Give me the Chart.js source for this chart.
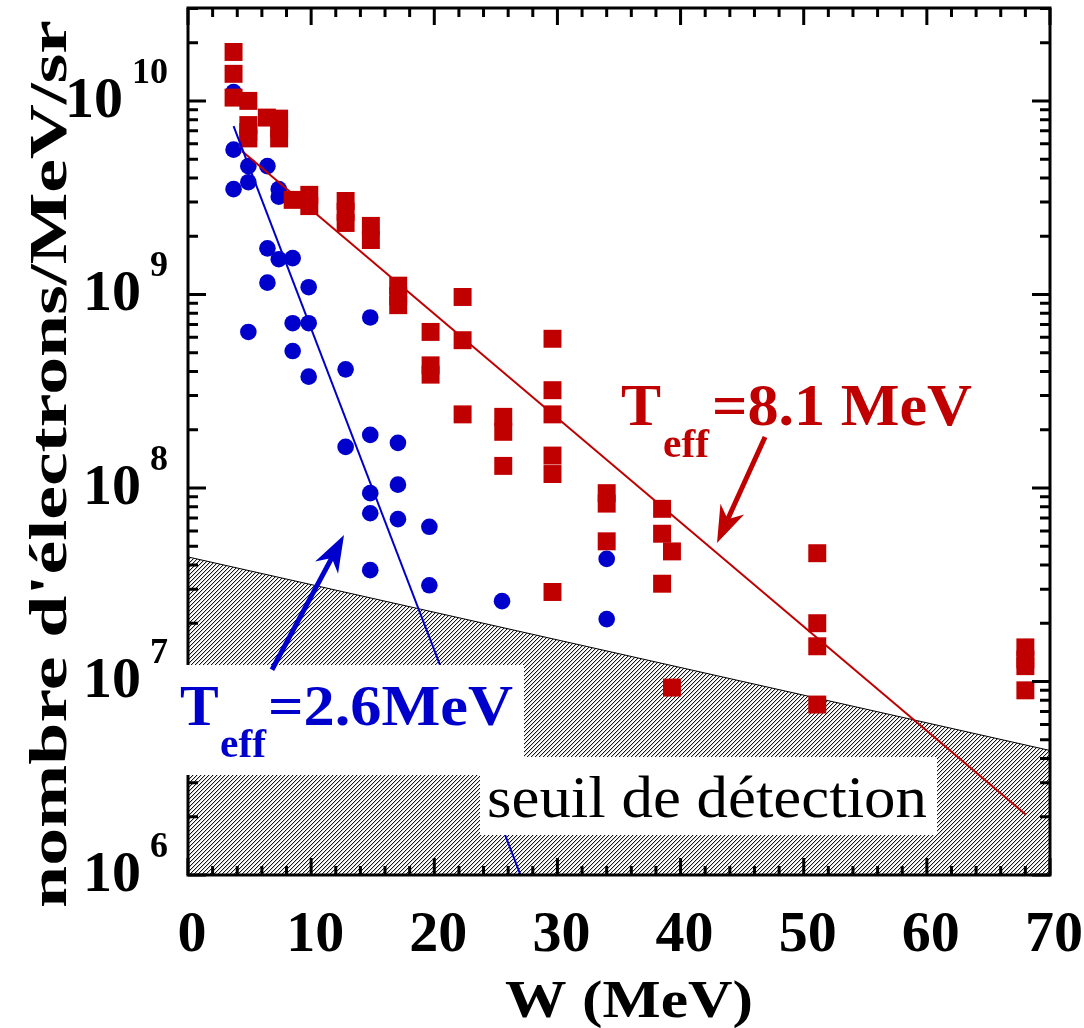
<!DOCTYPE html>
<html>
<head>
<meta charset="utf-8">
<script src="https://cdn.jsdelivr.net/npm/chart.js@4/dist/chart.umd.min.js"></script>
<style>
  html, body { margin: 0; padding: 0; background: #fff; }
  #wrap { width: 1084px; height: 1028px; }
</style>
</head>
<body>
<div id="wrap"><canvas id="spectre" width="1084" height="1028"></canvas></div>
<script>
/* --------------------------------------------------------------------------
   Spectre d'electrons : W (MeV) vs nombre d'electrons/MeV/sr
   -------------------------------------------------------------------------- */

// carres rouges
const rougeW = [3.7, 3.7, 3.7, 4.9, 4.9, 4.9, 4.9, 6.4, 7.4, 7.4, 7.4, 8.5, 9.85, 9.85,
  12.8, 12.8, 12.8, 14.85, 14.85, 17.07, 17.07, 17.07, 19.7, 19.7, 19.7, 22.3, 22.3, 22.3,
  25.6, 25.6, 25.6, 29.6, 29.6, 29.6, 29.6, 29.6, 29.6, 34.0, 34.0, 34.0,
  38.5, 38.5, 38.5, 39.3, 39.3, 51.1, 51.1, 51.1, 51.1, 68.0, 68.0, 68.0, 68.0];
const rougeN = [1.79e10, 1.38e10, 1.04e10, 1.0e10, 7.5e9, 6.9e9, 6.4e9, 8.2e9, 8.1e9, 7.2e9, 6.4e9, 3.08e9, 3.27e9, 2.86e9,
  3.04e9, 2.67e9, 2.34e9, 2.26e9, 1.91e9, 1.11e9, 9.8e8, 8.8e8, 6.4e8, 4.3e8, 3.85e8, 9.7e8, 5.8e8, 2.4e8,
  2.33e8, 1.95e8, 1.3e8, 5.9e8, 3.2e8, 2.4e8, 1.47e8, 1.18e8, 2.9e7, 9.4e7, 8.3e7, 5.3e7,
  7.8e7, 5.8e7, 3.2e7, 4.7e7, 9.3e6, 4.6e7, 2.0e7, 1.52e7, 7.6e6, 1.5e7, 1.3e7, 1.2e7, 9.0e6];

// ronds bleus
const bleuW = [3.7, 3.7, 3.7, 4.9, 4.9, 4.9, 6.45, 6.45, 6.45, 7.37, 7.37, 7.37, 8.5, 8.5, 8.5,
  9.8, 9.8, 9.8, 12.8, 12.8, 14.8, 14.8, 14.8, 14.8, 14.8, 17.05, 17.05, 17.05, 19.6, 19.6, 25.5, 34.0, 34.0];
const bleuN = [1.11e10, 5.6e9, 3.5e9, 4.6e9, 3.8e9, 6.4e8, 4.6e9, 1.73e9, 1.15e9, 3.5e9, 3.2e9, 1.52e9, 1.54e9, 7.1e8, 5.1e8,
  1.09e9, 7.1e8, 3.76e8, 4.1e8, 1.63e8, 7.6e8, 1.88e8, 9.4e7, 7.4e7, 3.76e7, 1.71e8, 1.04e8, 6.9e7, 6.3e7, 3.14e7, 2.6e7, 4.3e7, 2.1e7];

// droites d'ajustement (extremites)
const fitRougeW = [4.4, 68.05];
const fitRougeN = [5.5e9, 2.05e6];
const fitBleuW = [3.7, 27.0];
const fitBleuN = [7.4e9, 1.0e6];

// seuil de detection
const seuilW = [0, 70];
const seuilN = [4.4e7, 4.4e6];

// axes
const xLabels = [0, 10, 20, 30, 40, 50, 60, 70];
const yDecades = [6, 7, 8, 9, 10];

const SERIF = "'Liberation Serif', 'Times New Roman', serif";
const RED = "#C00000";
const BLUE = "#0000CC";

const zip = (xs, ys) => xs.map((x, i) => ({ x, y: ys[i] }));

function hatchPattern(target) {
  const c = document.createElement("canvas");
  c.width = 4; c.height = 4;
  const g = c.getContext("2d");
  const img = g.createImageData(4, 4);
  for (let y = 0; y < 4; y++) {
    const put = (x, v) => {
      const i = (y * 4 + x) * 4;
      img.data[i] = v; img.data[i + 1] = v; img.data[i + 2] = v; img.data[i + 3] = 255;
    };
    for (let x = 0; x < 4; x++) put(x, 255);
    put(3 - y, 20);
    put((4 - y) % 4, 205);
  }
  g.putImageData(img, 0, 0);
  return target.createPattern(c, "repeat");
}

function putText(ctx, str, x, y, font, color, width, align) {
  ctx.save();
  ctx.font = font;
  ctx.fillStyle = color;
  ctx.textBaseline = "alphabetic";
  ctx.textAlign = "left";
  const w = ctx.measureText(str).width;
  const sx = width ? width / w : 1;
  let left = x;
  if (align === "center") left = x - w * sx / 2;
  else if (align === "right") left = x - w * sx;
  ctx.translate(left, y);
  ctx.scale(sx, 1);
  ctx.fillText(str, 0, 0);
  ctx.restore();
}

function arrow(ctx, x0, y0, x1, y1, color, shaft, headLen, headHalf) {
  const len = Math.hypot(x1 - x0, y1 - y0);
  const ux = (x1 - x0) / len, uy = (y1 - y0) / len, px = -uy, py = ux;
  const bx = x1 - ux * headLen, by = y1 - uy * headLen;
  const nx = x1 - ux * headLen * 0.7, ny = y1 - uy * headLen * 0.7;
  ctx.save();
  ctx.strokeStyle = color; ctx.fillStyle = color; ctx.lineWidth = shaft;
  ctx.beginPath(); ctx.moveTo(x0, y0); ctx.lineTo(nx, ny); ctx.stroke();
  ctx.beginPath();
  ctx.moveTo(x1, y1);
  ctx.lineTo(bx + px * headHalf, by + py * headHalf);
  ctx.lineTo(nx, ny);
  ctx.lineTo(bx - px * headHalf, by - py * headHalf);
  ctx.closePath(); ctx.fill();
  ctx.restore();
}

// annotations (fleches en coordonnees des donnees)
const flecheBleue = { from: [6.82, 1.15e7], to: [12.67, 5.71e7] };
const flecheRouge = { from: [46.86, 1.835e8], to: [42.96, 5.2e7] };

const cadre = {
  id: "cadre",
  afterDatasetsDraw(chart) {
    const { ctx, chartArea: a, scales: { x, y } } = chart;
    ctx.save();

    // cadre + graduations interieures
    ctx.strokeStyle = "#000";
    ctx.lineWidth = 3;
    ctx.strokeRect(a.left, a.top, a.right - a.left, a.bottom - a.top);
    ctx.beginPath();
    for (let v = 0; v <= 70; v += 2) {
      const px = x.getPixelForValue(v);
      const L = v % 10 === 0 ? 17 : 9;
      ctx.moveTo(px, a.bottom); ctx.lineTo(px, a.bottom - L);
      ctx.moveTo(px, a.top); ctx.lineTo(px, a.top + L);
    }
    yDecades.forEach(e => {
      for (let m = 1; m <= 9; m++) {
        const v = m * Math.pow(10, e);
        if (v > y.max) continue;
        const py = y.getPixelForValue(v);
        const L = m === 1 ? 18 : 10;
        ctx.moveTo(a.left, py); ctx.lineTo(a.left + L, py);
        ctx.moveTo(a.right, py); ctx.lineTo(a.right - L, py);
      }
    });
    ctx.stroke();

    // etiquettes x
    xLabels.forEach(v => {
      putText(ctx, String(v), x.getPixelForValue(v) + 4, 951, "bold 58px " + SERIF, "#000", 0, "center");
    });

    // etiquettes y : 10^n
    yDecades.forEach(e => {
      const py = y.getPixelForValue(Math.pow(10, e));
      ctx.font = "bold 36px " + SERIF;
      const supW = ctx.measureText(String(e)).width;
      const supLeft = 168 - supW;
      putText(ctx, String(e), supLeft, py - 18, "bold 36px " + SERIF, "#000");
      putText(ctx, "10", supLeft - 9, py + 16, "bold 58px " + SERIF, "#000", 0, "right");
    });

    // titres des axes
    putText(ctx, "W (MeV)", 505, 1017, "bold 53px " + SERIF, "#000", 248);
    ctx.save();
    ctx.font = "bold 53px " + SERIF;
    const title = "nombre d'électrons/MeV/sr";
    const tw = ctx.measureText(title).width;
    ctx.translate(66, 464);
    ctx.rotate(-Math.PI / 2);
    ctx.scale(888 / tw, 1);
    ctx.textAlign = "center";
    ctx.textBaseline = "alphabetic";
    ctx.fillStyle = "#000";
    ctx.fillText(title, 0, 0);
    ctx.restore();

    // boites blanches des legendes
    ctx.fillStyle = "#fff";
    ctx.fillRect(170, 665, 354, 110);
    ctx.fillRect(480, 757, 457, 78);

    putText(ctx, "seuil de détection", 487, 817, "60px " + SERIF, "#000", 440);

    putText(ctx, "T", 180, 725, "bold 58px " + SERIF, BLUE);
    putText(ctx, "eff", 220, 757, "bold 39px " + SERIF, BLUE, 46);
    putText(ctx, "=2.6MeV", 268, 725, "bold 58px " + SERIF, BLUE, 245);

    putText(ctx, "T", 621, 425, "bold 60px " + SERIF, RED);
    putText(ctx, "eff", 663, 457, "bold 39px " + SERIF, RED, 46);
    putText(ctx, "=8.1 MeV", 712, 425, "bold 60px " + SERIF, RED, 260);

    // fleches
    [[flecheBleue, BLUE], [flecheRouge, RED]].forEach(([f, col]) => {
      arrow(ctx,
        x.getPixelForValue(f.from[0]), y.getPixelForValue(f.from[1]),
        x.getPixelForValue(f.to[0]), y.getPixelForValue(f.to[1]),
        col, 5, 37, 13);
    });

    ctx.restore();
  },
};

const canvas = document.getElementById("spectre");
const ctx = canvas.getContext("2d");

new Chart(ctx, {
  type: "scatter",
  data: {
    datasets: [
      { label: "ajustement 2.6 MeV", data: zip(fitBleuW, fitBleuN), showLine: true,
        borderColor: BLUE, borderWidth: 2, pointRadius: 0, order: 1 },
      { label: "ajustement 8.1 MeV", data: zip(fitRougeW, fitRougeN), showLine: true,
        borderColor: RED, borderWidth: 2, pointRadius: 0, order: 1 },
      { label: "carres", data: zip(rougeW, rougeN), pointStyle: "rect", pointRadius: 12.7,
        backgroundColor: RED, pointBorderWidth: 0, borderWidth: 0, order: 2 },
      { label: "ronds", data: zip(bleuW, bleuN), pointStyle: "circle", pointRadius: 8.3,
        backgroundColor: BLUE, pointBorderWidth: 0, borderWidth: 0, order: 3 },
      { label: "seuil", data: zip(seuilW, seuilN), showLine: true, fill: "start",
        backgroundColor: hatchPattern(ctx), borderColor: "#000", borderWidth: 1,
        pointRadius: 0, order: 4 },
    ],
  },
  options: {
    responsive: false,
    animation: false,
    devicePixelRatio: 1,
    events: [],
    layout: { padding: { left: 188, right: 34, top: 8, bottom: 153 }, autoPadding: false },
    scales: {
      x: { type: "linear", min: 0, max: 70, display: false },
      y: { type: "logarithmic", min: 1e6, max: 3.02e10, display: false },
    },
    plugins: { legend: { display: false }, tooltip: { enabled: false } },
  },
  plugins: [cadre],
});
</script>
</body>
</html>
